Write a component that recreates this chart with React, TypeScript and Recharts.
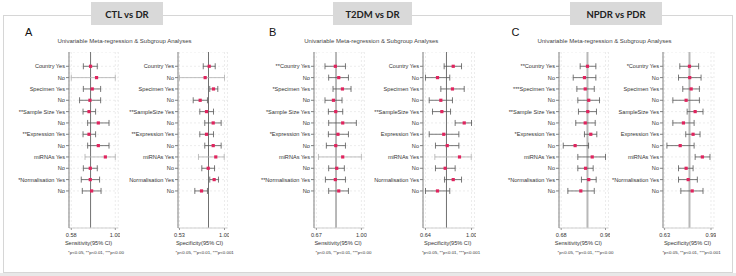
import React from 'react'
import { ScatterChart, Scatter, XAxis, YAxis, CartesianGrid, ReferenceLine, ErrorBar } from 'recharts'

const FONT = '"Liberation Sans", Arial, Helvetica, sans-serif'

// ---- row labels ----
const aSensLabels = ['Country Yes', 'No', 'Specimen Yes', 'No', '**Sample Size Yes', 'No', '**Expression Yes', 'No', 'miRNAs Yes', 'No', '*Normalisation Yes', 'No']
const aSpecLabels = ['Country Yes', 'No', 'Specimen Yes', 'No', '**SampleSize Yes', 'No', '**Expression Yes', 'No', 'miRNAs Yes', 'No', 'Normalisation Yes', 'No']
const bSensLabels = ['**Country Yes', 'No', '*Specimen Yes', 'No', '*Sample Size Yes', 'No', '*Expression Yes', 'No', 'miRNAs Yes', 'No', '**Normalisation Yes', 'No']
const bSpecLabels = ['Country Yes', 'No', 'Specimen Yes', 'No', '**SampleSize Yes', 'No', 'Expression Yes', 'No', 'miRNAs Yes', 'No', 'Normalisation Yes', 'No']
const cSensLabels = ['**Country Yes', 'No', '***Specimen Yes', 'No', '**Sample Size Yes', 'No', '*Expression Yes', 'No', 'miRNAs Yes', 'No', '*Normalisation Yes', 'No']
const cSpecLabels = ['*Country Yes', 'No', 'Specimen Yes', 'No', 'SampleSize Yes', 'No', 'Expression Yes', 'No', 'miRNAs Yes', 'No', '*Normalisation Yes', 'No']

// ---- estimates + 95% CI ----
const aSensEst = [0.764, 0.821, 0.780, 0.758, 0.749, 0.838, 0.749, 0.838, 0.905, 0.761, 0.761, 0.774]
const aSensLo  = [0.695, 0.580, 0.695, 0.659, 0.692, 0.736, 0.692, 0.736, 0.711, 0.695, 0.675, 0.685]
const aSensHi  = [0.828, 1.000, 0.860, 0.860, 0.812, 0.940, 0.812, 0.940, 1.000, 0.828, 0.850, 0.864]

const aSpecEst = [0.840, 0.798, 0.885, 0.746, 0.812, 0.882, 0.812, 0.882, 0.909, 0.830, 0.892, 0.760]
const aSpecLo  = [0.778, 0.530, 0.846, 0.673, 0.742, 0.794, 0.742, 0.794, 0.728, 0.763, 0.846, 0.690]
const aSpecHi  = [0.903, 1.000, 0.930, 0.822, 0.885, 0.965, 0.885, 0.965, 0.997, 0.896, 0.937, 0.822]

const bSensEst = [0.809, 0.834, 0.861, 0.795, 0.812, 0.863, 0.828, 0.812, 0.863, 0.819, 0.809, 0.834]
const bSensLo  = [0.733, 0.760, 0.792, 0.733, 0.758, 0.760, 0.758, 0.743, 0.685, 0.760, 0.736, 0.760]
const bSensHi  = [0.883, 0.905, 0.924, 0.858, 0.863, 0.963, 0.905, 0.883, 1.000, 0.875, 0.883, 0.905]

const bSpecEst = [0.857, 0.734, 0.851, 0.760, 0.768, 0.943, 0.783, 0.810, 0.906, 0.794, 0.857, 0.734]
const bSpecLo  = [0.786, 0.640, 0.760, 0.669, 0.695, 0.872, 0.669, 0.718, 0.713, 0.718, 0.789, 0.640]
const bSpecHi  = [0.922, 0.830, 0.943, 0.851, 0.836, 1.000, 0.901, 0.901, 0.998, 0.872, 0.922, 0.830]

const cSensEst = [0.846, 0.827, 0.832, 0.854, 0.848, 0.832, 0.867, 0.768, 0.876, 0.834, 0.854, 0.804]
const cSensLo  = [0.800, 0.756, 0.779, 0.785, 0.789, 0.772, 0.827, 0.693, 0.785, 0.785, 0.808, 0.722]
const cSensHi  = [0.899, 0.899, 0.889, 0.922, 0.903, 0.895, 0.905, 0.853, 0.960, 0.882, 0.901, 0.889]

const cSpecEst = [0.823, 0.825, 0.836, 0.797, 0.867, 0.776, 0.851, 0.751, 0.923, 0.797, 0.813, 0.844]
const cSpecLo  = [0.748, 0.738, 0.771, 0.694, 0.805, 0.694, 0.794, 0.648, 0.867, 0.738, 0.738, 0.756]
const cSpecHi  = [0.894, 0.913, 0.900, 0.900, 0.928, 0.859, 0.905, 0.859, 0.982, 0.851, 0.884, 0.928]

// pooled estimate (vertical reference line) per plot
const pooled = [0.764, 0.833, 0.814, 0.804, 0.846, 0.823]
// axis end ticks per plot
const axisMins = [0.58, 0.53, 0.67, 0.64, 0.68, 0.63]
const axisMaxs = [1.00, 1.00, 1.00, 1.00, 0.96, 0.99]

const SENS_NOTE = '*p<0.05, **p<0.01, ***p<0.00'
const SPEC_NOTE = '*p<0.05, **p<0.01, ***p<0.001'

const panels = [
  { letter: 'A', title: 'CTL vs DR', letterX: 25, subX: 124.5, box: [91, 72] },
  { letter: 'B', title: 'T2DM vs DR', letterX: 269, subX: 371.3, box: [333, 79] },
  { letter: 'C', title: 'NPDR vs PDR', letterX: 511.5, subX: 604.5, box: [570, 92] },
]

// layout of the six forest plots (pixel positions of axis line and end ticks)
const plots = [
  { labels: aSensLabels, est: aSensEst, lo: aSensLo, hi: aSensHi, axisX: 68.7, minX: 71, maxX: 115, name: 'Sensitivity(95% CI)', nameX: 88.5, note: SENS_NOTE, noteX: 96, refW: 1, refC: '#707070' },
  { labels: aSpecLabels, est: aSpecEst, lo: aSpecLo, hi: aSpecHi, axisX: 177.5, minX: 179, maxX: 224, name: 'Specificity(95% CI)', nameX: 199.5, note: SPEC_NOTE, noteX: 204.7, refW: 1, refC: '#707070' },
  { labels: bSensLabels, est: bSensEst, lo: bSensLo, hi: bSensHi, axisX: 314.3, minX: 316.7, maxX: 361.7, name: 'Sensitivity(95% CI)', nameX: 338, note: SENS_NOTE, noteX: 343.5, refW: 1, refC: '#707070' },
  { labels: bSpecLabels, est: bSpecEst, lo: bSpecLo, hi: bSpecHi, axisX: 422.5, minX: 425, maxX: 471, name: 'Specificity(95% CI)', nameX: 447.7, note: SPEC_NOTE, noteX: 451, refW: 1, refC: '#707070' },
  { labels: cSensLabels, est: cSensEst, lo: cSensLo, hi: cSensHi, axisX: 558.5, minX: 560.7, maxX: 605, name: 'Sensitivity(95% CI)', nameX: 578.3, note: SENS_NOTE, noteX: 585.5, refW: 2, refC: '#b8b8b8' },
  { labels: cSpecLabels, est: cSpecEst, lo: cSpecLo, hi: cSpecHi, axisX: 662.7, minX: 664.3, maxX: 710.7, name: 'Specificity(95% CI)', nameX: 687.5, note: SPEC_NOTE, noteX: 691.5, refW: 2, refC: '#b8b8b8' },
]

const PLOT_TOP = 52
const PLOT_H = 176
const X_AXIS_H = 16
const Y_AXIS_W = 60
const ROWS = [1, 2, 3, 4, 5, 6, 7, 8, 9, 10, 11, 12]

function Square(props: any) {
  const { cx, cy } = props
  if (cx == null || cy == null) return null
  return <rect x={cx - 1.6} y={cy - 1.6} width={3.2} height={3.2} fill="#e0245e" />
}

function Forest({ p, idx }: { p: typeof plots[number]; idx: number }) {
  const plotW = p.maxX + 3 - p.axisX
  const width = Y_AXIS_W + plotW + 2
  const rows = p.est.map((e, i) => ({
    row: i + 1,
    est: e,
    err: [e - p.lo[i], p.hi[i] - e],
    wide: p.hi[i] - p.lo[i] > 0.25,
  }))
  const narrow = rows.filter(r => !r.wide)
  const wide = rows.filter(r => r.wide)
  const tickStyle = { fontSize: 5.6, fill: '#333', fontFamily: FONT }

  // plain svg text so labels never wrap
  const RowTick = (props: any) => (
    <text x={props.x} y={props.y} textAnchor="end" dominantBaseline="central" style={tickStyle}>
      {p.labels[props.payload.value - 1]}
    </text>
  )

  return (
    <div style={{ position: 'absolute', left: p.axisX - Y_AXIS_W, top: PLOT_TOP }}>
      <ScatterChart width={width} height={PLOT_H + X_AXIS_H} margin={{ top: 0, right: 2, bottom: 0, left: 0 }}>
        <CartesianGrid stroke="#e4e4e4" strokeDasharray="2 2" strokeWidth={0.7} />
        <XAxis
          type="number"
          dataKey="est"
          domain={[axisMins[idx], axisMaxs[idx]]}
          ticks={[axisMins[idx], axisMaxs[idx]]}
          padding={{ left: p.minX - p.axisX, right: 3 }}
          allowDataOverflow
          tickFormatter={(v: number) => v.toFixed(2)}
          height={X_AXIS_H}
          tickSize={2}
          tickMargin={3}
          tick={tickStyle}
          axisLine={{ stroke: '#d0d0d0' }}
          tickLine={{ stroke: '#999' }}
        />
        <YAxis
          type="number"
          dataKey="row"
          domain={[-0.26, 15.27]}
          reversed
          allowDataOverflow
          ticks={ROWS}
          interval={0}
          width={Y_AXIS_W}
          tickSize={3}
          tickMargin={1}
          tick={<RowTick />}
          axisLine={{ stroke: '#808080' }}
          tickLine={{ stroke: '#808080' }}
        />
        <ReferenceLine x={pooled[idx]} stroke={p.refC} strokeWidth={p.refW} />
        <Scatter data={narrow} shape={Square} isAnimationActive={false}>
          <ErrorBar dataKey="err" direction="x" width={3} stroke="#555" strokeWidth={0.8} />
        </Scatter>
        <Scatter data={wide} shape={Square} isAnimationActive={false}>
          <ErrorBar dataKey="err" direction="x" width={3} stroke="#b0b0b0" strokeWidth={0.8} />
        </Scatter>
      </ScatterChart>
    </div>
  )
}

export default function App() {
  return (
    <div style={{ position: 'absolute', left: 0, top: 0, width: 736, height: 276, background: '#fff', fontFamily: FONT, overflow: 'hidden' }}>
      <svg width={736} height={276} style={{ position: 'absolute', left: 0, top: 0 }}>
        <rect x={0} y={273} width={736} height={3} fill="#e8e8e8" />
        <rect x={3.5} y={15.5} width={729} height={257} fill="#fff" stroke="#d6d6d6" />
        {panels.map(pn => (
          <g key={pn.letter}>
            <rect x={pn.box[0]} y={2} width={pn.box[1]} height={23} fill="#d9d9d9" />
            <text x={pn.box[0] + pn.box[1] / 2} y={14} textAnchor="middle" dominantBaseline="central"
              style={{ fontFamily: 'Lato, ' + FONT, fontWeight: 700, fontSize: 9.5, fill: '#222' }}>{pn.title}</text>
            <text x={pn.letterX} y={31.5} dominantBaseline="central" style={{ fontSize: 11, fill: '#111' }}>{pn.letter}</text>
            <text x={pn.subX} y={41} textAnchor="middle" dominantBaseline="central" style={{ fontSize: 6, fill: '#444' }}>
              Univariable Meta-regression &amp; Subgroup Analyses
            </text>
          </g>
        ))}
        {plots.map((p, i) => (
          <g key={i}>
            <text x={p.nameX} y={243.3} textAnchor="middle" dominantBaseline="central" style={{ fontSize: 5.6, fill: '#333' }}>{p.name}</text>
            <text x={p.noteX} y={252.7} textAnchor="middle" dominantBaseline="central" style={{ fontSize: 4.4, fill: '#333' }}>{p.note}</text>
          </g>
        ))}
      </svg>
      {plots.map((p, i) => <Forest key={i} p={p} idx={i} />)}
    </div>
  )
}
